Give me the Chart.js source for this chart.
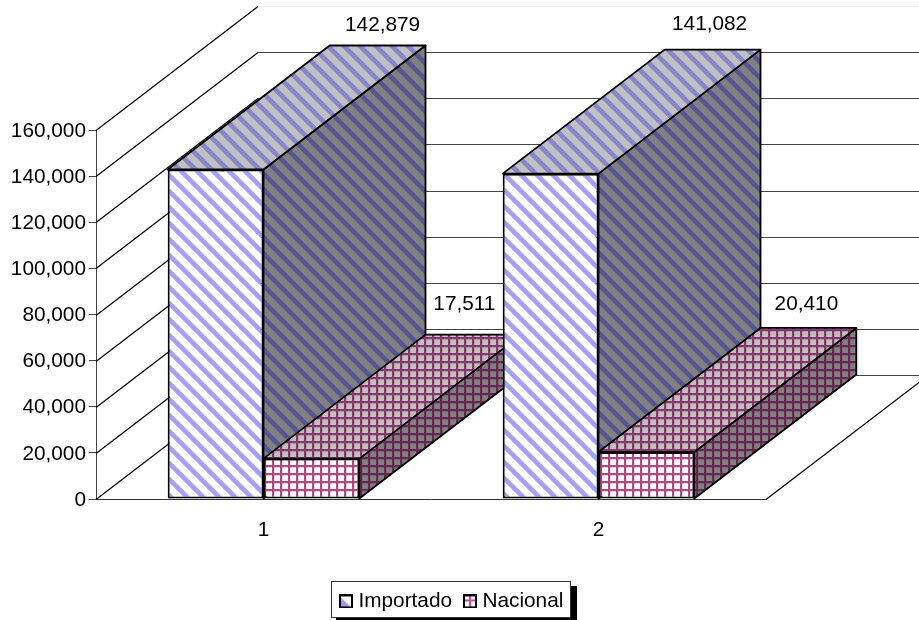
<!DOCTYPE html>
<html>
<head>
<meta charset="utf-8">
<title>Importado y Nacional</title>
<script src="https://cdn.jsdelivr.net/npm/chart.js@4"></script>
<style>
  html, body { margin: 0; padding: 0; background: #fff; }
  canvas { display: block; }
</style>
</head>
<body>
<canvas id="myChart" width="919" height="620"></canvas>
<script>
'use strict';

let categories = ['1', '2'];
let seriesNames = ['Importado', 'Nacional'];
let importado = [142879, 141082];
let nacional = [17511, 20410];
let yTicks = [0, 20000, 40000, 60000, 80000, 100000, 120000, 140000, 160000];

// how far the box tops and the walls are pushed back
let depthX = 162;
let depthY = 124;

let chartFont = { family: '"Liberation Sans", Arial, sans-serif', size: 20.8 };
let fontText = '20.8px "Liberation Sans", Arial, sans-serif';

// nudges for the value labels, from the back edge of each box
let labelNudges = [
  [[5, -20], [-9, -30]],
  [[-3, -25], [-2, -24]]
];

function stripeTile(back, line) {
  let c = document.createElement('canvas');
  c.width = 16;
  c.height = 16;
  let g = c.getContext('2d');
  g.fillStyle = back;
  g.fillRect(0, 0, 16, 16);
  g.strokeStyle = line;
  g.lineWidth = 4.6;
  for (let i = -32; i <= 16; i += 16) {
    g.beginPath();
    g.moveTo(i + 6, -4);
    g.lineTo(i + 30, 20);
    g.stroke();
  }
  return g.createPattern(c, 'repeat');
}

function gridTile(back, line) {
  let c = document.createElement('canvas');
  c.width = 8;
  c.height = 8;
  let g = c.getContext('2d');
  g.fillStyle = back;
  g.fillRect(0, 0, 8, 8);
  g.fillStyle = line;
  g.globalAlpha = 0.25;
  g.fillRect(2, 0, 1, 8);
  g.fillRect(0, 3, 8, 1);
  g.globalAlpha = 1;
  g.fillRect(0, 0, 2, 8);
  g.fillRect(0, 1, 8, 2);
  return g.createPattern(c, 'repeat');
}

let fills = [
  { front: stripeTile('#ffffff', '#a0a0ff'), top: stripeTile('#c0c0c0', '#8686cc'), side: stripeTile('#808080', '#555594') },
  { front: gridTile('#ffffff', '#aa4a7e'), top: gridTile('#c0c0c0', '#86386a'), side: gridTile('#808080', '#662850') }
];

function legendSwatch(index) {
  let c = document.createElement('canvas');
  c.width = 14;
  c.height = 14;
  let g = c.getContext('2d');
  g.fillStyle = '#000';
  g.fillRect(0, 0, 14, 14);
  g.fillStyle = '#fff';
  g.fillRect(2, 2, 10, 10);
  if (index === 0) {
    g.fillStyle = '#9999ff';
    g.beginPath();
    g.moveTo(2, 3);
    g.lineTo(11, 12);
    g.lineTo(2, 12);
    g.closePath();
    g.fill();
  } else {
    g.fillStyle = '#c05090';
    g.fillRect(2, 5, 10, 2);
    g.fillRect(6, 2, 2, 10);
  }
  return c;
}

function polygon(ctx, points, fill) {
  ctx.beginPath();
  ctx.moveTo(points[0][0], points[0][1]);
  for (let i = 1; i < points.length; i++) {
    ctx.lineTo(points[i][0], points[i][1]);
  }
  ctx.closePath();
  ctx.fillStyle = fill;
  ctx.fill();
  ctx.lineWidth = 1.8;
  ctx.strokeStyle = '#000';
  ctx.stroke();
}

function drawWalls(chart) {
  let ctx = chart.ctx;
  let area = chart.chartArea;
  let yScale = chart.scales.y;
  ctx.save();
  for (let i = 0; i < yTicks.length; i++) {
    let y = Math.round(yScale.getPixelForValue(yTicks[i])) + 0.5;
    ctx.lineWidth = 1.2;
    ctx.strokeStyle = '#000';
    ctx.beginPath();
    ctx.moveTo(area.left, y);
    ctx.lineTo(area.left + depthX, y - depthY);
    ctx.stroke();
    // the top line sits right against the edge and nearly fades out
    ctx.lineWidth = 1;
    ctx.strokeStyle = i === yTicks.length - 1 ? '#f0f0f0' : '#444';
    ctx.beginPath();
    ctx.moveTo(area.left + depthX, y - depthY);
    ctx.lineTo(area.right + depthX, y - depthY);
    ctx.stroke();
  }
  let floorY = Math.round(area.bottom) + 0.5;
  ctx.lineWidth = 1.2;
  ctx.strokeStyle = '#000';
  ctx.beginPath();
  ctx.moveTo(area.right, floorY);
  ctx.lineTo(area.right + depthX, floorY - depthY);
  ctx.stroke();
  ctx.restore();
}

function drawBox(chart, bar, fill) {
  let ctx = chart.ctx;
  let left = bar.x - bar.width / 2;
  let right = bar.x + bar.width / 2;
  let top = bar.y;
  let base = bar.base;
  ctx.save();
  ctx.lineJoin = 'round';
  polygon(ctx, [
    [right, top],
    [right + depthX, top - depthY],
    [right + depthX, base - depthY],
    [right, base]
  ], fill.side);
  polygon(ctx, [
    [left, top],
    [left + depthX, top - depthY],
    [right + depthX, top - depthY],
    [right, top]
  ], fill.top);
  ctx.restore();
  bar.draw(ctx);
}

let boxes3d = {
  id: 'boxes3d',
  beforeDraw: function (chart) {
    // legend frame with its hard shadow
    let ctx = chart.ctx;
    ctx.save();
    ctx.fillStyle = '#fff';
    ctx.fillRect(0, 0, chart.width, chart.height);
    ctx.fillStyle = '#000';
    ctx.fillRect(336, 586, 241, 36);
    ctx.fillStyle = '#fff';
    ctx.fillRect(331, 581, 240, 37);
    ctx.strokeStyle = '#333';
    ctx.lineWidth = 1;
    ctx.strokeRect(331.5, 581.5, 239, 36);
    ctx.restore();
  },
  afterLayout: function (chart) {
    let legend = chart.legend;
    let w = legend.width;
    let h = legend.height;
    legend.left = 328;
    legend.right = 328 + w;
    legend.top = 575;
    legend.bottom = 575 + h;
  },
  beforeDatasetsDraw: function (chart) {
    drawWalls(chart);
    // boxes go category by category so the nearer ones cover the overhang
    for (let j = 0; j < categories.length; j++) {
      for (let i = 0; i < chart.data.datasets.length; i++) {
        drawBox(chart, chart.getDatasetMeta(i).data[j], fills[i]);
      }
    }
    return false;
  },
  // returning false above also skips afterDatasetsDraw, so labels go here
  afterDraw: function (chart) {
    let ctx = chart.ctx;
    ctx.save();
    ctx.font = fontText;
    ctx.fillStyle = '#000';
    ctx.textAlign = 'center';
    ctx.textBaseline = 'middle';
    for (let i = 0; i < chart.data.datasets.length; i++) {
      let values = chart.data.datasets[i].data;
      for (let j = 0; j < values.length; j++) {
        let bar = chart.getDatasetMeta(i).data[j];
        let nudge = labelNudges[j][i];
        ctx.fillText(values[j].toLocaleString('en-US'), bar.x + depthX + nudge[0], bar.y - depthY + nudge[1]);
      }
    }
    ctx.restore();
  }
};

let ctx = document.getElementById('myChart').getContext('2d');
let myChart = new Chart(ctx, {
  type: 'bar',
  data: {
    labels: categories,
    datasets: [
      {
        label: seriesNames[0],
        data: importado,
        backgroundColor: fills[0].front,
        borderColor: '#000',
        borderWidth: 2,
        borderSkipped: false,
        categoryPercentage: 0.572,
        barPercentage: 1
      },
      {
        label: seriesNames[1],
        data: nacional,
        backgroundColor: fills[1].front,
        borderColor: '#000',
        borderWidth: 2,
        borderSkipped: false,
        categoryPercentage: 0.572,
        barPercentage: 1
      }
    ]
  },
  options: {
    responsive: false,
    animation: false,
    layout: { padding: { top: 130, right: 153, left: 0, bottom: 0 } },
    plugins: {
      tooltip: { enabled: false },
      legend: {
        display: true,
        position: 'bottom',
        align: 'start',
        labels: {
          font: chartFont,
          color: '#000',
          padding: 16,
          usePointStyle: true,
          pointStyleWidth: 4,
          generateLabels: function () {
            return seriesNames.map(function (name, i) {
              return { text: name, pointStyle: legendSwatch(i), datasetIndex: i };
            });
          }
        }
      }
    },
    scales: {
      x: {
        grid: { display: false },
        border: { color: '#333' },
        ticks: { color: '#000', font: chartFont, padding: 11 },
        afterFit: function (scale) {
          scale.height = 121 - scale.chart.legend.height;
        }
      },
      y: {
        min: 0,
        max: 160000,
        afterBuildTicks: function (scale) {
          scale.ticks = yTicks.map(function (v) { return { value: v }; });
        },
        grid: { drawOnChartArea: false, tickLength: 7, color: '#444' },
        border: { color: '#444' },
        ticks: {
          color: '#000',
          font: chartFont,
          padding: 3,
          labelOffset: 1,
          callback: function (value) { return value.toLocaleString('en-US'); }
        },
        afterFit: function (scale) {
          scale.width = 96;
        }
      }
    }
  },
  plugins: [boxes3d]
});
</script>
</body>
</html>
